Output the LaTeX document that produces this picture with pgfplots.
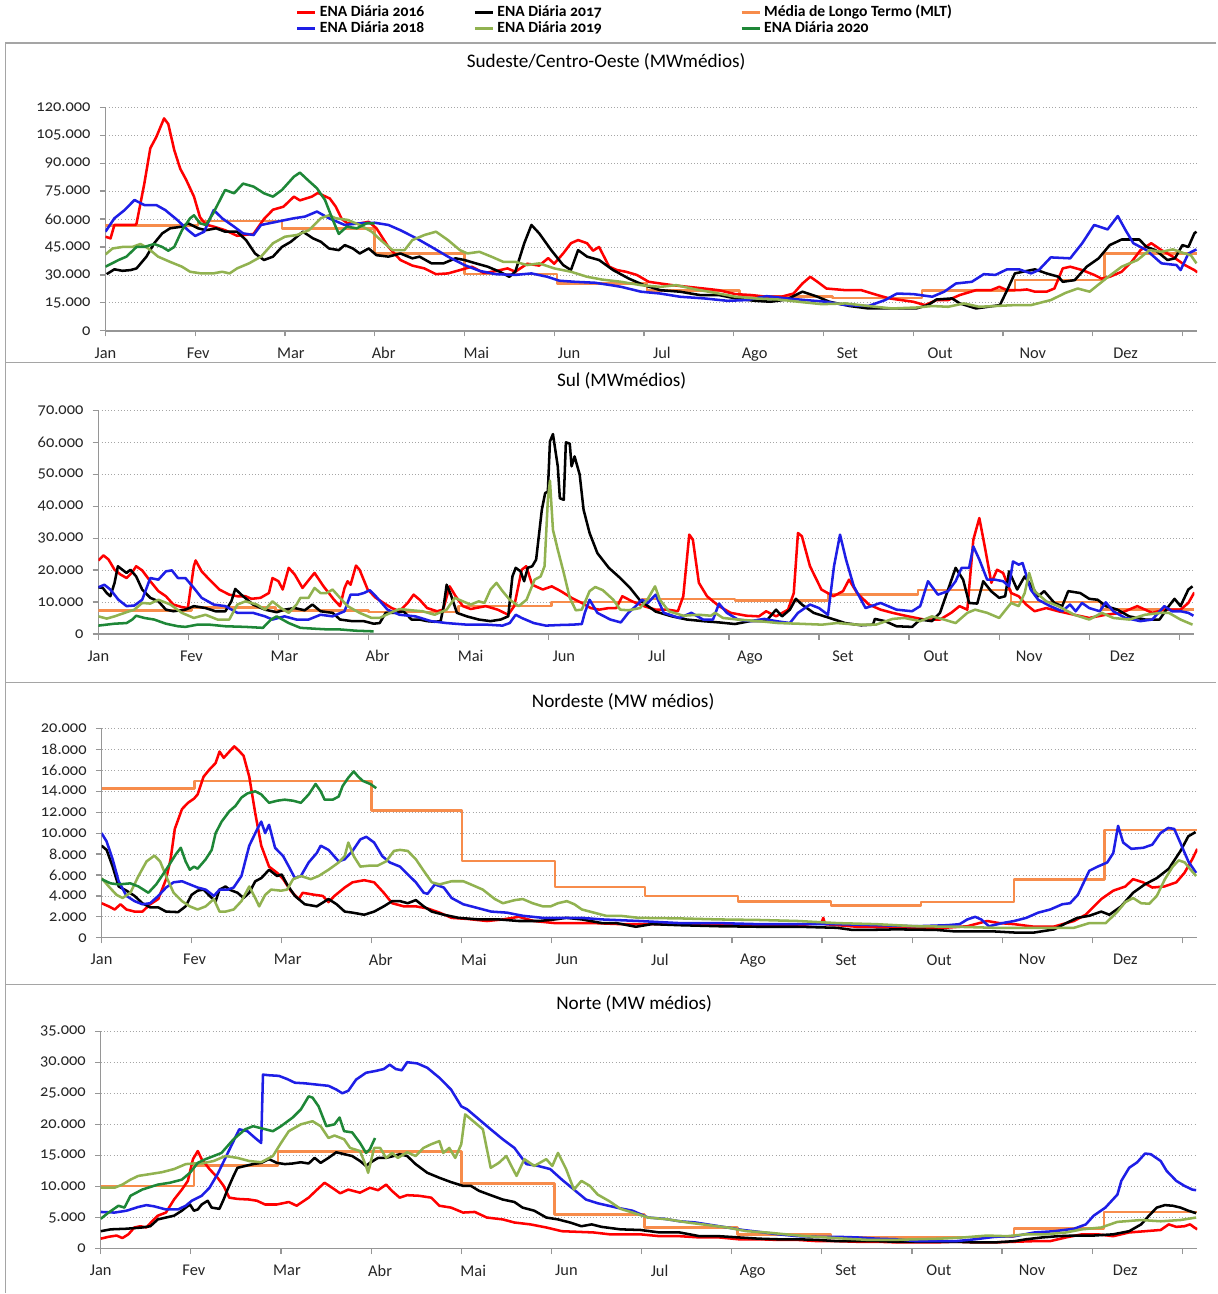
\documentclass[border=0pt]{standalone}
\usepackage{fontspec}
\setmainfont{Carlito}[Numbers=OldStyle]
\usepackage{pgfplots}
\pgfplotsset{compat=1.18}
\definecolor{c16}{RGB}{255,0,0}
\definecolor{c17}{RGB}{0,0,0}
\definecolor{c18}{RGB}{30,30,230}
\definecolor{c19}{RGB}{145,178,80}
\definecolor{c20}{RGB}{30,135,55}
\definecolor{cmlt}{RGB}{247,140,75}
\definecolor{axgray}{RGB}{150,150,150}
\definecolor{grgray}{RGB}{165,165,165}
\definecolor{frgray}{RGB}{165,165,165}
\pgfplotsset{
 ena/.style={
   scale only axis, xmin=0, xmax=365, ymin=0,
   axis lines=left, axis line style={-, draw=axgray, line width=1.1pt},
   xtick={0,30,...,360}, xticklabels={},
   extra x ticks={0,31,62,93,124,155,186,217,248,279,310,341},
   extra x tick labels={Jan,Fev,Mar,Abr,Mai,Jun,Jul,Ago,Set,Out,Nov,Dez},
   extra x tick style={major tick length=0pt, xticklabel style={yshift=-9pt}},
   tick align=outside, major tick length=4.2pt,
   tick style={draw=axgray, line width=0.9pt},
   ymajorgrids, major grid style={draw=grgray, dotted, line width=0.6pt},
   scaled y ticks=false,
   /pgf/number format/assume math mode=true,
   yticklabel style={xshift=-3.5pt, /pgf/number format/.cd, fixed, precision=0, 1000 sep={.}, assume math mode=true},
   tick label style={font=\fontsize{12.3}{14}\selectfont, text=black!85},
   every axis plot/.append style={line width=1.9pt, line join=round, mark=none},
 }
}
\begin{document}
\begin{tikzpicture}
\path (0pt,0pt) rectangle (912.75pt,-970.5pt);
% frames
\draw[frgray, line width=1.1pt] (912.75pt,-32.25pt) -- (4.1pt,-32.25pt) -- (4.1pt,-970.5pt);
\draw[frgray, line width=1.1pt] (4.1pt,-271.9pt) -- (912.75pt,-271.9pt);
\draw[frgray, line width=1.1pt] (4.1pt,-512.25pt) -- (912.75pt,-512.25pt);
\draw[frgray, line width=1.1pt] (4.1pt,-738.75pt) -- (912.75pt,-738.75pt);
% titles
\node[font=\fontsize{14.4}{17}\selectfont] at (454.9pt,-46.5pt) {Sudeste/Centro-Oeste (MWmédios)};
\node[font=\fontsize{14.4}{17}\selectfont] at (466.5pt,-285.75pt) {Sul (MWmédios)};
\node[font=\fontsize{14.4}{17}\selectfont] at (467.6pt,-526.5pt) {Nordeste (MW médios)};
\node[font=\fontsize{14.4}{17}\selectfont] at (475.9pt,-753pt) {Norte (MW médios)};

%================ PANEL 1
\begin{axis}[ena, at={(79.125pt,-248.25pt)}, anchor=south west, width=819.4pt, height=167.8pt,
  ymax=120000, ytick={0,15000,...,120000},
  legend columns=3, legend cell align=left,
  legend style={at={(axis description cs:0.1745,1.4567)}, anchor=north west, draw=none, fill=none,
    inner sep=0pt, outer sep=0pt, font=\fontsize{11.7}{13}\selectfont\bfseries,
    /tikz/column sep=0pt, /tikz/row sep=1pt,
    nodes={inner xsep=2.25pt, inner ysep=0pt, text height=8.5pt, text depth=2.5pt}},
  legend image code/.code={\draw[#1, line width=2.2pt] (0pt,0pt) -- (13.5pt,0pt);},
]
\addlegendimage{c16}\addlegendentry{\makebox[113pt][l]{ENA Diária 2016}}
\addlegendimage{c17}\addlegendentry{\makebox[180pt][l]{ENA Diária 2017}}
\addlegendimage{cmlt}\addlegendentry{Média de Longo Termo (MLT)}
\addlegendimage{c18}\addlegendentry{ENA Diária 2018}
\addlegendimage{c19}\addlegendentry{ENA Diária 2019}
\addlegendimage{c20}\addlegendentry{ENA Diária 2020}
\addplot[cmlt, const plot, forget plot] coordinates {(0,56500)(31,59000)(59,55000)(90,41500)(120,30400)(151,25400)(181,21500)(212,18300)(243,17700)(273,21500)(304,27200)(334,41500)(365,41500)};
\addplot[c16, forget plot] coordinates {(0,50500)(1.7,49600)(3,56800)(10,56800)(10.4,57600)(13,79000)(15,98000)(17,104000)(19.6,114000)(21,111000)(23,97000)(25,87000)(27,81000)(29.6,72000)(31.6,61000)(33.6,57000)(36,56000)(40,54000)(44,51000)(49.5,52000)(53,60000)(56,65000)(59.5,66600)(63,72000)(65,70000)(69,72000)(71,74000)(75,71000)(77,66600)(79,60000)(81,57600)(85,57600)(88,58500)(90.6,55000)(94.6,45000)(98.6,38000)(102.6,35000)(106.6,33500)(110.5,30400)(114.5,30800)(118.5,32600)(122.5,34400)(126.5,31000)(130.4,32000)(134.4,33500)(137,31700)(141,36000)(145,35000)(148,39000)(150,36000)(153,41500)(155.6,47000)(158,48700)(161,47000)(163,43000)(165,45000)(168.4,34400)(171,32600)(174,31700)(177.6,30000)(181.6,26300)(185.5,25400)(189.5,24500)(194.8,23600)(200,22700)(205,21800)(210.6,19700)(215.8,19200)(221,18300)(226,18300)(230,20000)(233,25400)(235.6,29000)(238,26300)(241,22700)(247.5,21800)(252.7,21800)(258,19200)(262,17400)(266,16500)(270,15600)(274,13800)(277.8,16500)(281.7,16500)(285.6,19200)(291,21800)(296,21800)(298.8,23600)(301.4,21800)(305.4,21800)(308,22200)(310.7,21000)(314.6,21000)(317.2,22700)(320,33500)(322.5,34400)(326.5,32600)(330.5,30000)(333,28000)(335.7,29000)(339.7,31700)(343,37000)(346,43300)(349.6,47000)(353,43300)(356.8,39800)(360.8,35300)(364,32600)(365,31400)};
\addplot[c17, forget plot] coordinates {(0.4,30400)(3,33000)(5.7,32200)(8.4,32600)(10.4,33500)(13.7,39800)(16.3,47000)(19,52300)(21.6,55000)(25.6,55900)(27.6,57700)(31,55000)(33.6,54000)(37,55000)(40,53200)(44,53200)(47,48700)(50,41500)(53,38000)(56,39800)(59,45000)(62,47800)(66,53200)(69.4,49600)(72,47800)(74.7,44200)(78,43300)(80,46000)(82.7,44200)(85,41500)(88,44200)(90.6,40600)(94.6,39800)(98.6,41500)(102.6,38900)(105,39800)(109,36200)(113,36200)(117,38900)(120,38000)(123.8,36200)(127.8,34400)(131.8,31700)(135,29000)(137,31700)(140,47000)(142.4,56800)(145,52300)(149,43300)(153,35300)(155.6,32600)(158,43300)(161,39800)(165,38000)(169.7,32600)(175,28000)(180,24500)(185.5,21800)(192,21000)(198.7,19200)(205,19200)(210.6,17400)(217,16100)(222.4,15600)(227.7,16800)(233,21000)(238,18300)(242,15600)(248.8,13300)(255,12000)(263,12000)(271,12000)(275,13800)(277.8,16800)(283,17400)(285.6,14700)(291,12000)(295,12900)(299,13800)(301.4,21800)(304,30800)(306.7,31700)(310.7,33000)(314.6,30800)(318.6,29000)(320,26300)(324,27200)(328,34400)(332,38900)(335.7,46000)(339.7,49000)(345.6,49000)(348,45000)(351,43300)(355,38000)(357.5,38900)(360,46000)(362,45000)(364,52300)(364.7,53200)};
\addplot[c18, forget plot] coordinates {(0,53200)(3,60400)(6.4,64800)(9.7,70200)(13,67500)(17,67500)(20,64800)(24,59500)(27.6,54000)(30,50900)(33,53200)(36.2,64800)(39,60400)(43,55900)(46,52300)(49.5,51400)(52,56800)(57.5,58600)(63,60400)(66.7,61300)(70.7,64000)(74.7,60400)(80,56800)(85,57700)(90,58000)(94.6,56800)(98.6,54000)(104,49600)(109,45000)(114.5,39800)(120,35300)(125,32200)(130.4,30400)(137,30000)(142.4,30800)(147.7,29000)(151.7,26900)(157,26300)(163.6,25800)(169,24500)(172.4,23600)(179,21000)(185.5,20000)(192,18300)(200,17400)(208,16100)(214.5,16500)(221,18600)(227.7,17400)(234,16500)(241,15600)(247.5,13800)(255,13300)(260.6,16500)(264.6,20000)(270,19700)(276.4,18300)(280.4,21000)(284.3,25400)(289.6,26300)(293.6,30400)(297.5,30000)(301.4,33000)(305.4,33000)(309.4,30800)(312,32600)(316,39400)(322.5,38900)(326.5,47000)(330.5,56800)(335,54400)(338.4,61600)(341,54000)(343.6,47000)(348,43300)(353,36200)(358,35300)(359.4,32600)(362,41500)(364.7,43700)};
\addplot[c19, forget plot] coordinates {(0,41000)(2.4,44200)(5.7,45000)(9,45000)(11.7,46600)(14.3,44200)(17.6,39800)(21.6,37000)(25.6,34400)(28.3,31700)(32,30800)(36,30800)(39,31700)(41.5,30800)(44,33500)(48,36200)(52,39800)(56,47000)(60,50500)(64,51400)(68,54000)(72,60400)(74.7,62000)(77,60400)(81,59500)(85,56800)(89,53200)(92,48700)(96,43300)(100,43300)(102.6,48700)(106.6,51400)(110.5,53200)(114.5,48700)(118.5,43300)(121,41500)(125,42400)(129,39800)(133,37000)(137,37000)(141,35300)(145,36200)(150,33500)(155.6,31700)(161,29000)(166,27500)(172.4,26300)(179,24500)(185.5,23600)(190.8,24500)(197.4,22200)(205,20000)(210.6,18300)(217,17400)(225,16800)(231.6,15600)(239.5,14300)(247.5,14700)(255,13300)(263,12000)(271,12500)(276.4,13300)(281.7,12900)(287,14700)(292,12900)(297.5,13300)(304,13800)(309.4,13800)(316,16500)(321,20400)(325,22700)(329,21000)(334.4,28000)(339.7,34400)(345,38000)(349,43300)(353,42400)(356.8,43700)(360.8,41500)(362.8,40600)(364.7,36200)};
\addplot[c20, forget plot] coordinates {(0,34400)(4.4,38000)(7,39800)(10.4,45000)(13,45000)(16.3,46600)(19,45000)(21,43000)(23,45000)(25.6,54000)(28.3,60400)(29.6,62000)(31.6,57700)(33.6,56800)(36,63000)(40,75600)(43,73800)(46,79000)(49.5,77400)(53,73800)(56,72000)(59,75600)(63,82700)(65,84900)(67.6,81000)(70.7,76500)(73.4,70200)(76,59500)(78,52000)(80.7,55900)(84,55000)(87.3,57700)(90,57700)};
\end{axis}

%================ PANEL 2
\begin{axis}[ena, at={(73.8pt,-475.7pt)}, anchor=south west, width=822.45pt, height=167.7pt,
  ymax=70000, ytick={0,10000,...,70000}]
\addplot[cmlt, const plot] coordinates {(0,7300)(31,8300)(59,7400)(90,6900)(120,8800)(151,10000)(181,11000)(212,10400)(243,12300)(273,13700)(304,10000)(334,7600)(365,7600)};
\addplot[c16] coordinates {(0,23000)(1.7,24600)(3.4,23300)(5.4,20100)(7.4,18600)(9.4,17500)(11.3,19300)(12.6,21200)(14.6,19900)(17.3,16500)(20,13400)(22.5,11800)(25,9200)(27.8,8400)(29.8,8100)(31.8,21200)(32.4,23000)(34.4,19600)(37,17000)(40.3,13900)(43.6,12300)(46.3,11800)(49,11800)(51,11000)(54,11300)(56.8,12800)(58,17500)(60,16500)(61.4,13900)(63.4,20700)(65.4,18600)(68,14400)(70.6,17500)(72,19100)(75,14900)(78.5,10700)(80.5,8700)(82,14400)(83,16500)(84,15400)(85.8,21400)(87,20100)(89.7,13900)(92.4,11300)(95,9700)(97.7,8100)(100.3,7100)(103,9700)(105,12300)(107,10700)(109.5,8100)(112.8,7100)(114.8,7600)(117,14900)(119,11800)(121.4,8700)(124,7800)(129,8700)(133,7600)(136.5,6000)(138.5,8700)(141,20100)(142.5,21200)(144.5,15400)(148,13900)(151,14900)(154,13400)(157.6,11300)(161,9700)(164,8100)(166.8,7600)(170,8100)(172.5,8100)(174.5,11800)(177.8,10200)(181.7,8700)(185.6,7600)(189.6,7600)(193,7100)(194.8,11800)(196.8,31100)(198,29500)(200,16000)(202.7,11800)(206.7,8700)(210.6,6600)(215.8,5700)(220,5500)(222.4,7100)(225.7,5500)(229.7,7600)(231.6,12800)(233,31600)(234.3,30600)(237,21200)(240.8,13900)(244.8,11800)(248,13400)(250,17000)(252.7,12800)(256.6,9200)(260.5,7600)(264.5,6600)(269.7,5500)(275,4500)(280.3,4500)(284,6600)(286.8,8700)(289.4,7600)(291.4,29500)(293.4,36300)(295.4,26400)(297.4,16000)(299.3,20100)(301.3,19100)(304,12800)(306.5,11800)(309,9200)(311.8,7100)(315.7,8100)(319.7,7100)(325,6000)(330,5000)(335.5,6000)(340.7,6600)(346,8700)(351,6600)(355,7600)(360.4,7600)(363,9700)(365,13000)};
\addplot[c17] coordinates {(0,14600)(1.5,14400)(2.8,12800)(4,11800)(5.4,16000)(6.5,21200)(8,20100)(9.4,19100)(10.7,20100)(12.6,18000)(14.6,13900)(17.3,11300)(20,10200)(22.5,7600)(25,7100)(29,7600)(31.8,8700)(35.7,8100)(39,7100)(42.3,7100)(44.3,10200)(45.6,14100)(47.6,12300)(51.5,9200)(55.5,7600)(59.4,6800)(62,7600)(65.4,8100)(68.7,7400)(71.3,9200)(74,7100)(78,6600)(80.5,4500)(84.5,4000)(88.4,4000)(91.7,3200)(93.7,3400)(95.7,6600)(99,6600)(101.6,7100)(104.3,4500)(107,4500)(109.5,4000)(112,3800)(114,4000)(115,8700)(116,15400)(117.4,12300)(119.4,6600)(122.7,5500)(126.7,4500)(130.6,4000)(134,4500)(136.5,5500)(137.9,18000)(139,20700)(140.6,19600)(141.8,16500)(143,20700)(144.5,21200)(145.8,23300)(147.7,38900)(148.8,44100)(149.7,44600)(150.4,60300)(151.4,62600)(153,52500)(153.7,42500)(155,42000)(155.7,60000)(157,59600)(157.6,52500)(158.6,55600)(160.3,49900)(161.6,38900)(163.6,31600)(166.2,25300)(170,20700)(173.8,17500)(177,14500)(180.4,10500)(185.6,7000)(191,5500)(196,4500)(201.4,4000)(206.7,3600)(212,3100)(217,4000)(222.4,4000)(225.7,7600)(227.7,5500)(230.3,7600)(232.3,11000)(234.3,9200)(238.2,6600)(243.5,5000)(248.7,3400)(254,2700)(258,2900)(258.6,4700)(262,4000)(265.8,2400)(271,2200)(273.7,4500)(277.6,4000)(280.3,6600)(283,13900)(285.5,20700)(288,17000)(290,9700)(292.7,9500)(294.7,16500)(297.3,13400)(300,11300)(302,11800)(303.3,19600)(306,13900)(308.5,18000)(310.5,15400)(313,11800)(315,13400)(318.4,9700)(321,8700)(323,13400)(327,12800)(330,11000)(332.8,10700)(335.5,8700)(339.4,7600)(343.3,5500)(348.6,4500)(353.4,4500)(356.5,8700)(358.4,11000)(360.4,8700)(363,13900)(364.4,14900)};
\addplot[c18] coordinates {(0,14600)(2,15400)(4,13900)(6.7,10700)(9.4,8700)(12,8900)(14.6,10700)(17.3,17500)(20,17000)(22.5,19600)(24.5,19900)(26.5,17500)(29,17500)(31.8,14400)(34.4,11300)(38.4,9200)(42.3,8700)(46.3,6600)(51.5,6600)(55.5,5500)(58,4500)(62,5500)(66,4500)(70,4500)(74,6000)(78,5500)(82,7100)(84,12300)(86.5,12300)(88.4,12800)(90.4,13700)(92.4,11800)(96.3,7600)(100.3,6000)(105.6,5500)(110.8,4000)(116,3400)(122.7,2900)(129.3,2900)(134.6,2600)(137,3400)(139,6000)(141,5000)(145,3400)(149,2600)(154,2800)(158,2900)(161,3100)(162,6600)(163.6,10700)(166.2,6600)(170.5,4500)(174,3600)(176.5,6600)(179,8700)(181,10700)(183,9700)(185.6,12300)(188.3,6600)(193.5,5000)(197.5,6600)(201.4,4500)(204.7,4500)(206.7,9500)(209.3,6600)(213,4500)(217,4000)(221.8,4700)(225.7,4000)(230.3,3400)(233,6600)(237,9200)(240,8100)(243,6000)(245,21200)(247,31100)(249,23300)(251.6,14900)(255.5,8100)(260.5,9700)(265.8,7600)(271,7100)(273.7,8700)(276.3,16500)(279.6,12300)(283,13400)(285.5,16500)(287.5,20700)(290,20700)(291.4,27400)(293.4,23300)(296,17000)(298.6,17000)(301.3,16500)(303.3,14900)(304.6,22700)(306.5,21700)(307.8,22200)(310.5,13900)(313,10700)(317,8700)(321,7100)(323.6,9200)(325.5,7100)(327.6,9700)(330,8100)(333.5,7100)(335.5,9900)(338,7100)(342,5000)(347,4000)(351,4500)(355,8700)(357.5,7100)(360.4,7100)(363,6600)(364.7,5700)};
\addplot[c19] coordinates {(0,5500)(2.8,4800)(5.4,5500)(9.4,6800)(12,7600)(14.6,9700)(17.3,9500)(20,10700)(24,9200)(27.8,6600)(31.8,5000)(35.7,6000)(39.7,4500)(43.6,4500)(46.3,9200)(49,10200)(52.8,9200)(55.5,7600)(58,10200)(60.8,8100)(63.4,6600)(66,9200)(67.3,11300)(70,11300)(72,14400)(74,12800)(76,12800)(78,13900)(80,11800)(83,8700)(87,6600)(91,5000)(93.7,5000)(97.7,6800)(100.3,7800)(104.3,7400)(108,7100)(112,6000)(116,7600)(118.7,11300)(121.4,10200)(124,9200)(126.7,10200)(128.6,9700)(130.6,13900)(132.6,16000)(134.6,13400)(137,10700)(140,8700)(142.6,10700)(145.3,17000)(147.3,18000)(148.6,21200)(149.7,42000)(150.4,48000)(151.4,32600)(153,26400)(155,19100)(157,11300)(159,7400)(161,7600)(163.6,13400)(165.5,14700)(168,13700)(171.5,10700)(173.8,7600)(176.5,7400)(180.4,8100)(183,11000)(185.4,14900)(187,10700)(190,7100)(194.8,5700)(200,6000)(204,5700)(205.4,6600)(208,5000)(213,4500)(220,4000)(226.4,3400)(233,3200)(241,2900)(246,3400)(252.7,2900)(259,2900)(264.5,4700)(268.4,5000)(273.7,4000)(277.6,5500)(281.6,4500)(285.5,3400)(289.4,6600)(292,7600)(296,6600)(300,5000)(304,9700)(306.5,8700)(308.5,12800)(310,19100)(311.8,13400)(315.7,10200)(319.7,8700)(325,6000)(330,4500)(334.2,6600)(338,5000)(343.3,4500)(348.6,6000)(354,6600)(356.5,6600)(360.4,4500)(364.4,2900)};
\addplot[c20] coordinates {(0,2600)(5.4,3200)(9.4,3400)(11.3,4500)(12.6,5700)(15.3,5000)(18.6,4500)(22.5,3200)(26.5,2400)(29,2200)(33,2900)(37,2900)(42.3,2400)(49,2200)(54.8,1900)(57.5,4500)(59.4,5500)(63.4,3400)(67.3,1900)(72.6,1600)(76.6,1400)(80.5,1400)(85.8,1000)(91.7,800)};
\end{axis}

%================ PANEL 3
\begin{axis}[ena, at={(76.2pt,-703.7pt)}, anchor=south west, width=822.3pt, height=157pt,
  ymax=20000, ytick={0,2000,...,20000}]
\addplot[cmlt, const plot] coordinates {(0,14250)(31,15000)(59,15000)(90,12150)(120,7350)(151,4850)(181,4000)(212,3450)(243,3100)(273,3400)(304,5550)(334,10300)(365,10300)};
\addplot[c16] coordinates {(0,3300)(2.4,3000)(4.4,2700)(6.3,3200)(8.3,2700)(11,2500)(13.6,2500)(16.2,3200)(18.9,3700)(21.5,5600)(23,7500)(24.4,10400)(26.8,12300)(28.8,12900)(30.8,13300)(32,13700)(34,15400)(36,16100)(38,16700)(39.3,17800)(40.7,17200)(42.6,17800)(44.2,18300)(46,17800)(47.3,17400)(49.2,15400)(51.2,11900)(53.2,8800)(55.8,6800)(58.5,6200)(60.5,5600)(63,4500)(65.7,3700)(67,4300)(71,4100)(73.7,4000)(75.6,3400)(77.6,4000)(81,4800)(83.6,5300)(87.5,5500)(90.8,5300)(94,4300)(96.8,3300)(100.7,3000)(104.7,3000)(108.6,2800)(112.6,2400)(116.6,1900)(121.8,1800)(128.4,1600)(133.7,1750)(139,2000)(144,1600)(151,1400)(157.5,1400)(164,1400)(173,1300)(179,1300)(192.5,1300)(205.6,1200)(218.8,1200)(232,1200)(239.8,1400)(240.4,1900)(241,1300)(251.6,1050)(264.7,1000)(278,900)(288.4,1100)(295,1600)(299,1400)(304,1300)(310.7,1050)(317,1050)(323.9,1600)(327.8,2200)(333,3700)(337,4500)(341,4900)(343.6,5600)(346.9,5300)(350,4800)(354,4900)(358,5300)(360.7,6200)(363.3,7500)(365,8500)};
\addplot[c17] coordinates {(0,8800)(1.7,8400)(3.7,6800)(5.7,4900)(8.3,4500)(11,4000)(13.6,3300)(16.2,2900)(18.9,2900)(21.5,2500)(25.5,2450)(28,3000)(30,4100)(32,4500)(34,4600)(36,4000)(38,3500)(39.3,4600)(41.3,4900)(42.6,4600)(45.3,4300)(47.3,3800)(49.2,4300)(51.2,5400)(53.2,5700)(55.8,6500)(58.5,5900)(60,6050)(61.8,5100)(64.4,4000)(67.7,3200)(71.7,3000)(75.6,3700)(78.3,3200)(81,2500)(83.6,2400)(87.5,2200)(90.8,2500)(94,3000)(96.8,3500)(99.4,3500)(102,3300)(104.7,3600)(107.3,3000)(110,2500)(114,2200)(119,1900)(125.8,1750)(132.4,1750)(139,1600)(145.6,1600)(151,1750)(154.8,1900)(160,1750)(166.7,1400)(171.5,1400)(178,1050)(183.3,1300)(192.5,1200)(205.6,1100)(218.8,1050)(232,1050)(245,950)(250,750)(255.6,750)(264.7,800)(278,750)(284.5,600)(297.6,600)(304,500)(310.7,500)(317.3,800)(321.3,1400)(325,1900)(329,2100)(333,2500)(335.7,2200)(339.6,3000)(343.6,4300)(347.5,5100)(351.5,5700)(355.5,6600)(359.4,8300)(362,9700)(364.4,10100)};
\addplot[c18] coordinates {(0,10000)(1.7,9200)(3.7,7500)(5.7,5400)(8.3,4000)(11,3500)(13.6,3200)(16.2,3300)(18.9,4000)(21.5,4800)(24,5300)(26.8,5400)(29.4,5100)(32,4800)(34.7,4600)(37.4,4000)(39.3,4600)(42,4600)(44,4800)(46.6,5900)(49.2,8800)(51.9,10400)(53.2,11100)(54.5,10000)(55.8,10800)(57.8,8600)(60.5,7800)(62.4,6800)(64.4,5700)(66.4,5900)(69,7200)(71.7,8100)(73,8800)(75.6,8400)(79,7300)(81,7500)(83.6,8300)(86.2,9400)(88.2,9650)(90.8,9100)(93.5,7800)(96,7200)(99.4,6800)(102,6050)(104.7,5300)(107.3,4300)(108.6,4200)(111,5100)(114,4800)(116.6,3800)(120.5,3200)(124.5,2900)(129.8,2500)(135,2400)(140.3,2100)(147,1900)(153.5,1900)(160,1900)(166.7,1750)(179,1600)(192.5,1400)(205.6,1400)(218.8,1300)(232,1300)(245,1300)(258,1200)(271.3,1100)(281.8,1200)(285.8,1300)(288.4,1750)(291,2000)(293,1750)(295.6,1100)(300,1400)(304,1600)(308,1900)(312,2400)(316,2700)(320,3200)(322.6,3300)(325.2,4100)(329,6400)(331.8,6800)(335,7200)(337,8100)(338.6,10700)(340.3,9100)(343,8500)(347,8600)(350,8900)(352.7,10000)(355.3,10500)(357.3,10400)(359.3,9100)(362,7300)(364.6,6200)};
\addplot[c19] coordinates {(0,5700)(2.4,4900)(5,4100)(7,3800)(9.6,4300)(12.3,5900)(15,7300)(17.6,7850)(19.5,7300)(21.5,5900)(24,4300)(26.8,3500)(29.4,3000)(32,2700)(34.7,3000)(37.4,3700)(39.3,2500)(41.3,2500)(44,2700)(46.6,3500)(49.2,4900)(51.2,3800)(52.5,3000)(54.5,4100)(56.5,4600)(59.8,4500)(61.8,4600)(63.8,5600)(66.4,5900)(69.7,5600)(72.3,5900)(75.6,6500)(79,7200)(81,7800)(82.2,9100)(84,7800)(86.2,6800)(89.5,6900)(92,6900)(94.8,7300)(97.4,8300)(99.4,8400)(102,8300)(104.7,7500)(107.3,6400)(110,5300)(112.6,5100)(116.6,5400)(120.5,5400)(123,5100)(127,4600)(131,3700)(133.7,3300)(137.7,3600)(140.3,3700)(143.6,3300)(147,3000)(149.6,3000)(152,3300)(155,3500)(157.5,3200)(160,2700)(164,2400)(168,2100)(172.8,2100)(179,1900)(192.5,1850)(205.6,1750)(218.8,1700)(232,1600)(245,1400)(258,1300)(271.3,1100)(284.5,1050)(297.6,950)(310.7,950)(323.9,950)(329,1400)(334.5,1400)(338.4,2500)(341,3400)(343.6,3800)(346.3,3300)(349,3250)(351.5,4000)(354.2,5600)(356.8,6800)(358.8,7400)(360.8,7200)(362.8,6500)(364.6,5900)};
\addplot[c20] coordinates {(0,5600)(3,5200)(5.7,5100)(9.6,5200)(12.3,4900)(15.6,4300)(18.2,5100)(21.5,6500)(24.8,8000)(26.4,8600)(28,7300)(29.4,6500)(30.8,6800)(32,6600)(34.7,7500)(36.7,8400)(38,10000)(40,11100)(42.6,12100)(44.6,12600)(46.6,13400)(48.6,13800)(51.2,14000)(53.2,13700)(55.8,12900)(58.5,13100)(61,13200)(63.8,13100)(66.4,12900)(69,13700)(71.3,14700)(73,14000)(74.3,13200)(77,13200)(79,13500)(80.3,14500)(82.2,15300)(84,15900)(85.5,15400)(87,15000)(89.5,14700)(91.5,14300)};
\end{axis}

%================ PANEL 4
\begin{axis}[ena, at={(75.6pt,-936.975pt)}, anchor=south west, width=822.9pt, height=163.2pt,
  ymax=35000, ytick={0,5000,...,35000}]
\addplot[cmlt, const plot] coordinates {(0,10100)(31,13400)(59,15600)(120,10500)(151,5500)(181,3400)(212,2300)(243,1800)(273,1900)(304,3200)(334,5900)(365,5900)};
\addplot[c16] coordinates {(0,1600)(2.6,1900)(5.3,2100)(7.2,1700)(9.2,2300)(11.2,3400)(13.2,3600)(15.2,3400)(17.1,4400)(19,5300)(21.7,5800)(24.4,7900)(27,9500)(29,10900)(30.7,14400)(32.3,15700)(33.6,14400)(36.2,12800)(38.9,11400)(40.9,10100)(42.8,8200)(45.5,8000)(49.4,7900)(52,7700)(54.7,7100)(58.6,7100)(62.6,7500)(65.2,6900)(69.2,8200)(71.8,9400)(74.5,10600)(77,9800)(79.7,8900)(82.4,9500)(86.3,9000)(89.6,9800)(92.3,9400)(95,10300)(96.9,9300)(99.5,8200)(102,8600)(106,8500)(110,8200)(112.7,6900)(116.6,6600)(120.6,5800)(124.5,5900)(128.5,5000)(133.8,4700)(137.7,4200)(143,3900)(148.3,3400)(153.5,2800)(158.8,2700)(164,2600)(169.4,2300)(173,2300)(179.6,2300)(186,2000)(192.7,2000)(199.3,1800)(205.8,1800)(212.4,1500)(219,1500)(225.5,1400)(232,1400)(238.6,1200)(245,1200)(251.8,1100)(258.3,1100)(265,1000)(271.4,1000)(278,1000)(284.6,1100)(291,1000)(297.7,1000)(304.2,1100)(310.8,1200)(316,1200)(321.3,1800)(326.6,2300)(331.8,2300)(337,2000)(342.3,2600)(347.6,2800)(352.8,3000)(355.5,3900)(358,3500)(360.7,3600)(362.6,3900)(364,3400)(365,3100)};
\addplot[c17] coordinates {(0,2800)(3.3,3100)(8.6,3200)(13.8,3400)(16.5,3600)(19,4700)(21.7,5000)(24.4,5300)(27,6100)(28.3,6600)(29.7,7100)(31,6100)(32.3,6300)(33.6,7100)(35.6,7700)(36.9,6600)(39.5,6400)(40.9,7900)(42.2,9500)(44.2,11700)(45.5,13000)(48.1,13300)(50.7,13600)(53.4,13800)(56,14400)(58.6,13800)(61.3,13600)(63.9,13700)(66.6,13900)(69.2,13700)(71.2,14600)(73.2,13800)(75.8,14600)(78.4,15500)(81,15200)(83.7,14900)(86.3,14100)(88.3,13300)(89.6,13800)(92.3,14600)(95,14600)(97.5,14900)(99.5,15200)(102,14900)(104.8,13600)(108.7,12200)(112.7,11400)(116.6,10700)(120.6,10100)(123.2,10100)(125.9,9300)(129.8,8600)(133.8,7900)(137.7,7500)(140.4,6600)(144.3,6100)(148.3,5000)(152.2,4700)(156.2,4200)(160,3600)(163.4,3900)(166.7,3500)(173,3100)(179.6,3000)(186,2600)(192.7,2600)(199.3,2000)(205.8,2000)(212.4,1800)(219,1600)(225.5,1500)(232,1500)(238.6,1400)(245,1200)(251.8,1200)(258.3,1200)(265,1100)(271.4,1100)(278,1100)(284.6,1100)(291,1000)(297.7,1000)(304.2,1200)(308,1500)(313.4,1800)(318.7,2000)(324,2100)(330.5,2100)(337,2300)(342.3,2800)(346.3,3900)(348.9,5300)(351.5,6600)(354.2,7000)(356.8,6900)(359.4,6600)(362,6100)(364.6,5700)};
\addplot[c18] coordinates {(0,5900)(4.6,5800)(8.6,6100)(12.5,6700)(15.2,7000)(17.8,6800)(21.7,6300)(25.7,6300)(28.3,6900)(30.3,7700)(33.6,8500)(36.2,9800)(38.9,12000)(41.5,14600)(44.2,17300)(46.1,19200)(48.8,18900)(51.4,17800)(53.4,17000)(54,28000)(56,27900)(59.3,27800)(62,27300)(64.6,26700)(68,26600)(71.8,26400)(75.8,26200)(78.4,25600)(80.4,25000)(82.4,25400)(85,27200)(88.3,28300)(91.6,28600)(94.2,28900)(96.2,29600)(98.2,28900)(100.2,28700)(102,30000)(105.4,29800)(108.7,29100)(112.7,27500)(116.6,25600)(120,22900)(122,22400)(125.9,20800)(129.8,19200)(133.8,17600)(137.7,16200)(141.7,13600)(145.6,13300)(149.6,12800)(153.5,11100)(157.5,9500)(161.5,7900)(165.4,7300)(171.7,6600)(177,6100)(182.2,5000)(187.5,4800)(192.7,4400)(198,4200)(203.2,3800)(208.5,3400)(213.7,3000)(219,2700)(225.5,2300)(232,2000)(238.6,1900)(245,1900)(251.8,1800)(258.3,1600)(265,1500)(271.4,1200)(278,1200)(284.6,1200)(291,1500)(297.7,1900)(304.2,2000)(310.8,2600)(317.4,2800)(324,3200)(327.9,3900)(330.5,5300)(334.4,6600)(338.4,8700)(339.7,10900)(342.3,13000)(345,13900)(347.6,15300)(349.5,15200)(352.8,14100)(354.8,12500)(358,10900)(360.7,10100)(363.3,9500)(364.6,9400)};
\addplot[c19] coordinates {(0,9800)(4.6,9800)(7.2,10300)(9.9,11100)(12.5,11700)(16.5,12000)(20.4,12300)(24.4,12800)(28.3,13600)(31,13700)(33.6,13700)(37.6,14100)(41.5,14900)(45.5,14600)(49.4,14100)(53.4,13900)(57.3,14900)(60,17000)(62.6,18900)(66.6,20000)(70.5,20500)(73.2,19700)(75.8,17800)(77.8,18200)(81,17600)(83,16200)(86.3,15700)(88.3,13300)(89,12200)(91,16200)(93,16200)(95,14600)(97,15400)(98.9,14600)(102,15500)(104.8,14900)(107.4,16200)(110,16800)(112.7,17300)(114,15400)(116,16200)(118,14600)(120,16800)(121.3,21600)(124.5,20300)(127.2,19200)(129.8,13000)(132.5,13800)(135,14900)(137,13000)(138.4,11700)(141,14400)(144.3,13300)(148.3,14400)(150.3,13300)(152.2,15400)(154.9,12800)(157.5,9500)(160,10900)(162.8,10100)(165.4,8700)(169.4,7600)(173,6400)(177,5800)(182.2,5000)(188.8,4700)(195.4,4200)(202,3800)(208.5,3400)(215,2800)(221.6,2600)(228,2300)(234.7,2000)(241.3,1800)(247.8,1600)(255.7,1400)(263.6,1400)(271.4,1500)(279.3,1600)(287.2,1800)(295,2100)(301.6,2000)(308,2300)(314.7,2300)(321.3,2600)(326.6,3100)(333,3400)(338.4,4300)(346.3,4600)(352.8,4400)(359.4,4600)(364.6,5000)};
\addplot[c20] coordinates {(0,4800)(2.6,5800)(5.9,6900)(7.9,6600)(9.9,8500)(13.8,9500)(19,10300)(23,10600)(27,11100)(29.7,12200)(32.3,13800)(34.9,14400)(37.6,14900)(40.2,15400)(44.2,17600)(48.1,19200)(50.7,19700)(54,19300)(57.3,18900)(60,19700)(63.9,21100)(66.6,22400)(69.2,24500)(70.5,24300)(72.5,22900)(75.1,19700)(77.8,20000)(79.5,21100)(81,18900)(83.7,18700)(86.3,17000)(88.3,15400)(89.6,16000)(91.3,17800)};
\end{axis}
\end{tikzpicture}
\end{document}
